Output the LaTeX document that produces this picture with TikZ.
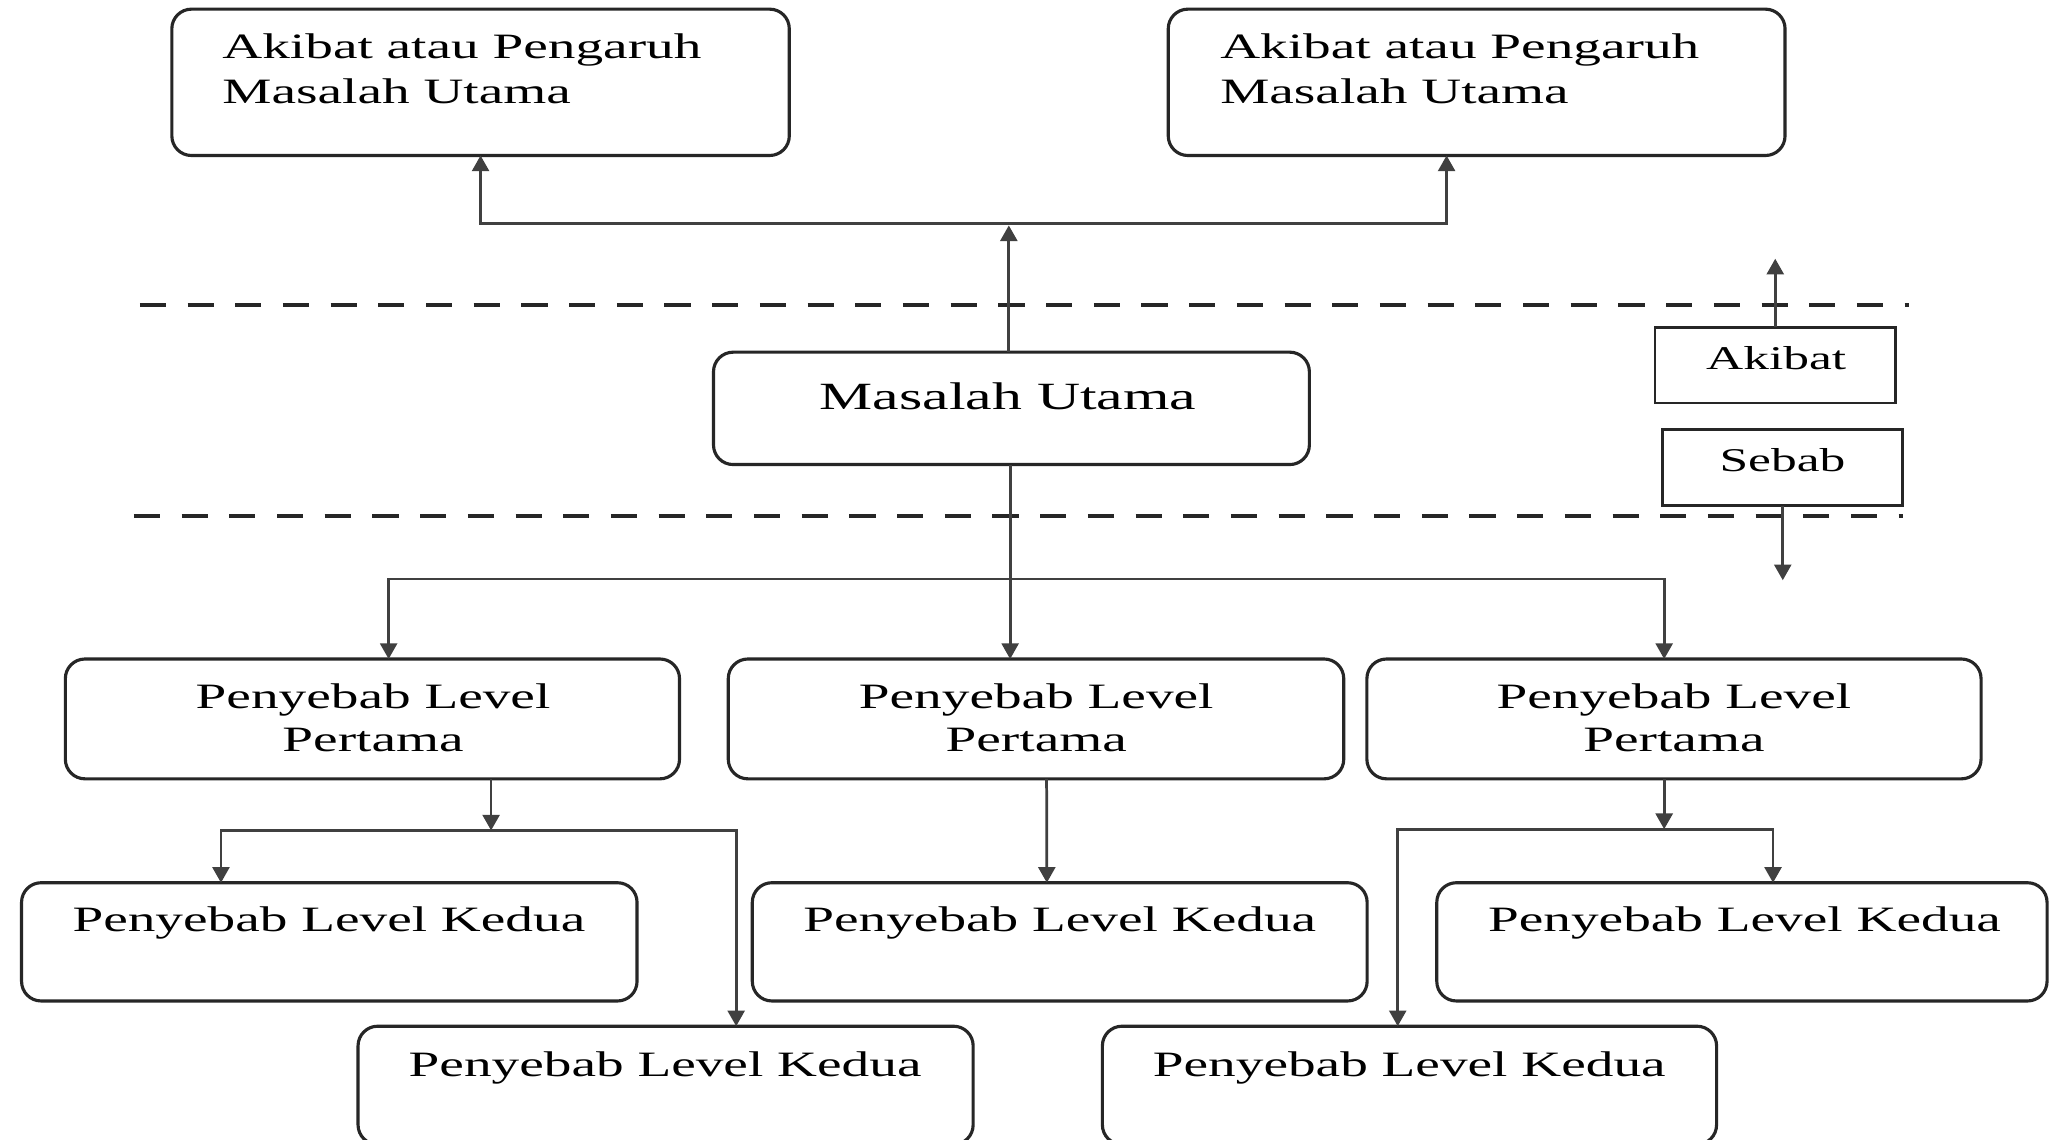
\documentclass[tikz,border=0pt]{standalone}
\usepackage{fontspec}
\setmainfont{Liberation Serif}[FakeStretch=1.55]
\usetikzlibrary{arrows.meta}
\newcommand\fszA{\fontsize{27.3}{34.3}\selectfont}
\newcommand\fszP{\fontsize{27.3}{32.6}\selectfont}
\newcommand\fszM{\fontsize{29.5}{34}\selectfont}
\newcommand\fszS{\fontsize{25.4}{30}\selectfont}
\tikzset{
  rbox/.style={draw=black!85, line width=2.4pt, rounded corners=15pt, fill=white, inner sep=0pt, outer sep=0pt, anchor=north west},
  sbox/.style={draw=black!85, line width=2.2pt, fill=white, inner sep=0pt, outer sep=0pt, anchor=north west},
  conn/.style={draw=black!75, line width=2.1pt},
  arr/.style={conn, -{Triangle[length=12pt,width=13pt]}},
  dline/.style={draw=black!85, line width=3pt, dash pattern=on 20pt off 16.5pt},
  txt/.style={inner sep=0pt, text=black},
}
\begin{document}
\begin{tikzpicture}[x=1pt,y=-1pt]
\useasboundingbox (0,0) rectangle (1568,872);
\clip (0,0) rectangle (1568,872);
\fill[white] (0,0) rectangle (1568,872);

% dashed separators
\coordinate (d1a) at (107,233.2);
\coordinate (d1b) at (1461,233.2);
\coordinate (d2a) at (102.5,394.6);
\coordinate (d2b) at (1456,394.6);
\draw[dline] (d1a) -- (d1b);
\draw[dline] (d2a) -- (d2b);

% boxes
\node[rbox, minimum width=472.5pt, minimum height=112pt] (A1) at (131.5,7) {};
\node[rbox, minimum width=472pt, minimum height=112pt] (A2) at (894,7) {};
\node[rbox, minimum width=456pt, minimum height=86pt] (MU) at (546,269.5) {};
\node[sbox, minimum width=184pt, minimum height=58pt] (AK) at (1266.5,250.4) {};
\node[sbox, minimum width=183.5pt, minimum height=58pt] (SB) at (1272.5,329) {};
\node[rbox, minimum width=470pt, minimum height=91.7pt] (P1) at (50,504.3) {};
\node[rbox, minimum width=471pt, minimum height=91.7pt] (P2) at (557.3,504.3) {};
\node[rbox, minimum width=470pt, minimum height=91.7pt] (P3) at (1046,504.3) {};
\node[rbox, minimum width=471pt, minimum height=90.5pt] (K1) at (16.5,675.5) {};
\node[rbox, minimum width=470.5pt, minimum height=90.5pt] (K2) at (575.7,675.5) {};
\node[rbox, minimum width=467pt, minimum height=90.5pt] (K3) at (1099.5,675.5) {};
\node[rbox, minimum width=470.7pt, minimum height=90.5pt] (K4) at (274,785.3) {};
\node[rbox, minimum width=470pt, minimum height=90.5pt] (K5) at (843.6,785.3) {};

% texts
\node[txt, font=\fszA, align=left, anchor=north west] (tA1) at (170,25.9) {Akibat atau Pengaruh\\Masalah Utama};
\node[txt, font=\fszA, align=left, anchor=north west] (tA2) at (933.6,25.9) {Akibat atau Pengaruh\\Masalah Utama};
\node[txt, font=\fszM, anchor=base] (tMU) at (771.5,313.6) {Masalah Utama};
\node[txt, font=\fszS, anchor=base] (tAK) at (1359.2,282.4) {Akibat};
\node[txt, font=\fszS, anchor=base] (tSB) at (1364,360.9) {Sebab};
\node[txt, font=\fszP, align=center, anchor=north] (tP1) at (285.5,523.3) {Penyebab Level\\Pertama};
\node[txt, font=\fszP, align=center, anchor=north] (tP2) at (793,523.3) {Penyebab Level\\Pertama};
\node[txt, font=\fszP, align=center, anchor=north] (tP3) at (1281,523.3) {Penyebab Level\\Pertama};
\node[txt, font=\fszP, anchor=base] (tK1) at (251.7,713) {Penyebab Level Kedua};
\node[txt, font=\fszP, anchor=base] (tK2) at (811,713) {Penyebab Level Kedua};
\node[txt, font=\fszP, anchor=base] (tK3) at (1335,713) {Penyebab Level Kedua};
\node[txt, font=\fszP, anchor=base] (tK4) at (509,823.5) {Penyebab Level Kedua};
\node[txt, font=\fszP, anchor=base] (tK5) at (1078.5,823.5) {Penyebab Level Kedua};

% upper connectors (effects)
\coordinate (hub) at (772,170.8);
\coordinate (hubtip) at (772,172.5);
\draw[arr] (MU.north -| hubtip) -- (hubtip);
\draw[arr] (hub) -| (A1.south);
\draw[arr] (hub) -| ([xshift=-23pt]A2.south);

% legend arrows
\coordinate (akend) at (1358.5,198);
\coordinate (sbend) at (1364.25,444);
\draw[arr] (AK.north) -- (AK.north |- akend);
\draw[arr] (SB.south) -- (SB.south |- sbend);

% lower connectors (causes)
\coordinate (j1) at (773,443);
\draw[arr] (MU.south -| j1) -- (P2.north -| j1);
\draw[arr] (j1) -| ([xshift=12.4pt]P1.north);
\draw[arr] (j1) -| ([xshift=-7.5pt]P3.north);

\coordinate (j2) at (375.8,635.5);
\draw[arr] (P1.south -| j2) -- (j2);
\draw[arr] (j2) -| ([xshift=-82.9pt]K1.north);
\draw[arr] (j2) -| ([xshift=54pt]K4.north);

\draw[arr] ([xshift=8.1pt]P2.south) -- ([xshift=-9.85pt]K2.north);

\coordinate (j3) at (1273.5,634.5);
\draw[arr] (P3.south -| j3) -- (j3);
\draw[arr] (j3) -| ([xshift=23.8pt]K3.north);
\draw[arr] (j3) -| ([xshift=-9pt]K5.north);
\end{tikzpicture}
\end{document}
